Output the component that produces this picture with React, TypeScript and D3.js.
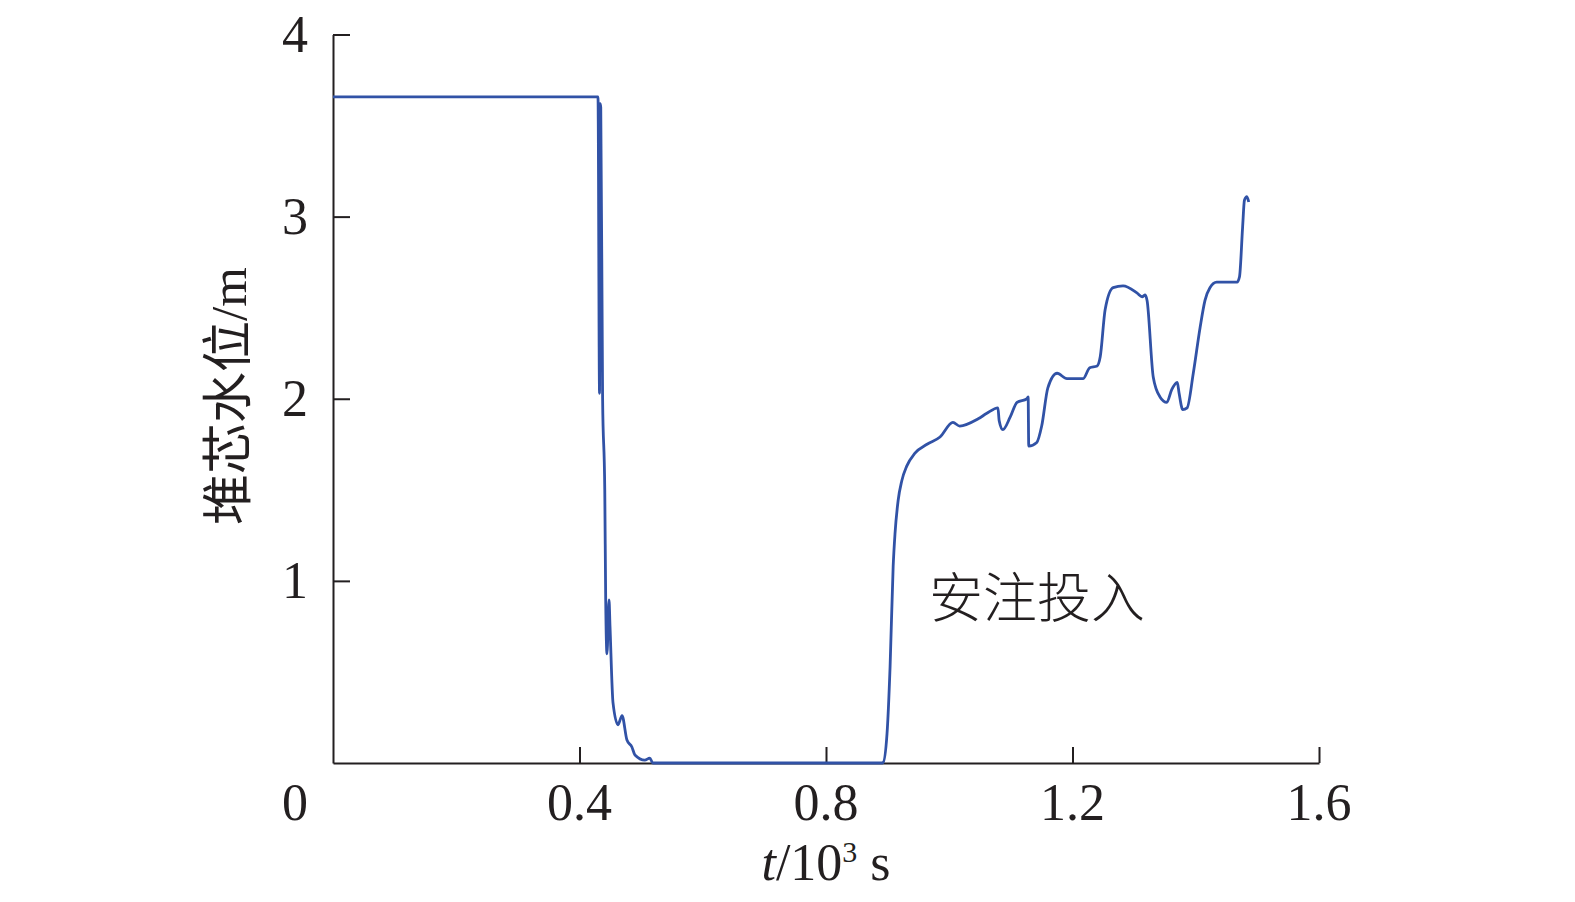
import { useEffect, useRef } from 'react';
import * as d3 from 'd3';

// time in 10^3 s, water level in m
const timeValues = [
  0, 0.430, 0.4325, 0.4335, 0.4345, 0.4375, 0.441, 0.4425, 0.4446, 0.4479, 0.4495, 0.4544,
  0.4625, 0.469, 0.477, 0.485, 0.490, 0.506, 0.514, 0.519, 0.890, 0.8925, 0.899, 0.904,
  0.909, 0.912, 0.917, 0.923, 0.931, 0.944, 0.964, 0.985, 1.006, 1.017, 1.047, 1.061,
  1.079, 1.081, 1.087, 1.099, 1.110, 1.126, 1.128, 1.129, 1.142, 1.150, 1.160, 1.175,
  1.191, 1.217, 1.228, 1.240, 1.245, 1.253, 1.266, 1.282, 1.305, 1.313, 1.318, 1.321,
  1.331, 1.342, 1.353, 1.361, 1.370, 1.373, 1.379, 1.386, 1.396, 1.407, 1.415, 1.423,
  1.434, 1.450, 1.467, 1.471, 1.476, 1.479, 1.483, 1.486,
];
const levelValues = [
  3.657, 3.657, 2.03, 3.62, 3.60, 2.0, 1.5, 0.9, 0.60, 0.895, 0.75, 0.33,
  0.21, 0.26, 0.126, 0.088, 0.044, 0.016, 0.027, 0, 0, 0.002, 0.16, 0.53,
  1.08, 1.26, 1.44, 1.55, 1.63, 1.70, 1.75, 1.79, 1.87, 1.85, 1.89, 1.92,
  1.95, 1.88, 1.83, 1.90, 1.98, 2.0, 2.01, 1.74, 1.76, 1.85, 2.06, 2.14,
  2.11, 2.11, 2.17, 2.18, 2.23, 2.49, 2.61, 2.62, 2.58, 2.56, 2.57, 2.54,
  2.12, 2.01, 1.98, 2.05, 2.09, 2.03, 1.94, 1.95, 2.14, 2.39, 2.54, 2.61,
  2.64, 2.64, 2.64, 2.67, 2.94, 3.09, 3.11, 3.08,
];
const xTicks = [0.4, 0.8, 1.2, 1.6];
const yTicks = [1, 2, 3, 4];
const xTickLabels = ['0.4', '0.8', '1.2', '1.6'];
const yTickLabels = ['1', '2', '3', '4'];
const annotation = '安注投入';
const yTitle = '堆芯水位/m';

const W = 1575;
const H = 902;
const margin = { top: 34.5, right: 256, bottom: 139, left: 333 };
const serif = '"Liberation Serif", "Times New Roman", serif';
const cjk = '"Noto Sans CJK SC", sans-serif';
const ink = '#231f20';

export default function App() {
  const ref = useRef<SVGSVGElement>(null);

  useEffect(() => {
    const svg = d3.select(ref.current);
    svg.selectAll('*').remove();

    const x = d3.scaleLinear().domain([0, 1.6]).range([margin.left, W - margin.right]);
    const y = d3.scaleLinear().domain([0, 4]).range([H - margin.bottom, margin.top]);

    // axes, ticks pointing inward
    const xAxis = svg.append('g')
      .attr('transform', `translate(0,${y(0)})`)
      .call(d3.axisBottom(x).tickValues(xTicks).tickSizeInner(-16).tickSizeOuter(0).tickFormat(() => ''));
    const yAxis = svg.append('g')
      .attr('transform', `translate(${x(0)},0)`)
      .call(d3.axisLeft(y).tickValues(yTicks).tickSizeInner(-17).tickSizeOuter(0).tickFormat(() => ''));
    [xAxis, yAxis].forEach(a => {
      a.selectAll('path').attr('stroke', ink).attr('stroke-width', 2);
      a.selectAll('line').attr('stroke', ink).attr('stroke-width', 2);
    });

    // tick labels
    svg.append('g').selectAll('text')
      .data(xTicks)
      .enter().append('text')
      .attr('x', d => x(d))
      .attr('y', y(0) + 57)
      .attr('text-anchor', 'middle')
      .attr('font-family', serif)
      .attr('font-size', 52)
      .attr('fill', ink)
      .text((d, i) => xTickLabels[i]);

    svg.append('g').selectAll('text')
      .data(yTicks)
      .enter().append('text')
      .attr('x', x(0) - 25)
      .attr('y', d => y(d) + 17)
      .attr('text-anchor', 'end')
      .attr('font-family', serif)
      .attr('font-size', 52)
      .attr('fill', ink)
      .text((d, i) => yTickLabels[i]);

    // shared origin label
    svg.append('text')
      .attr('x', x(0) - 25)
      .attr('y', y(0) + 57)
      .attr('text-anchor', 'end')
      .attr('font-family', serif)
      .attr('font-size', 52)
      .attr('fill', ink)
      .text('0');

    // x title: t/10^3 s
    const xt = svg.append('text')
      .attr('x', x(0.8))
      .attr('y', y(0) + 117)
      .attr('text-anchor', 'middle')
      .attr('font-family', serif)
      .attr('font-size', 52)
      .attr('fill', ink);
    xt.append('tspan').attr('font-style', 'italic').text('t');
    xt.append('tspan').text('/10');
    xt.append('tspan').attr('font-size', 30).attr('dy', -18).text('3');
    xt.append('tspan').attr('dy', 18).text(' s');

    // y title
    svg.append('text')
      .attr('transform', `translate(${246},${396}) rotate(-90)`)
      .attr('text-anchor', 'middle')
      .attr('font-family', `${serif.split(',')[0]}, ${cjk}`)
      .attr('font-size', 51)
      .attr('fill', ink)
      .text(yTitle);

    // annotation
    svg.append('text')
      .attr('x', 929)
      .attr('y', 618)
      .attr('font-family', cjk)
      .attr('font-weight', 300)
      .attr('font-size', 54)
      .attr('fill', ink)
      .text(annotation);

    // level curve
    const data = timeValues.map((t, i) => [t, levelValues[i]] as [number, number]);
    const line = d3.line<[number, number]>()
      .x(d => x(d[0]))
      .y(d => y(d[1]))
      .curve(d3.curveMonotoneX);
    svg.append('path')
      .datum(data)
      .attr('d', line)
      .attr('fill', 'none')
      .attr('stroke', '#3152a6')
      .attr('stroke-width', 2.8)
      .attr('stroke-linejoin', 'round');
  }, []);

  return (
    <svg
      ref={ref}
      width={W}
      height={H}
      style={{ position: 'absolute', left: 0, top: 0, background: '#fff' }}
    />
  );
}
